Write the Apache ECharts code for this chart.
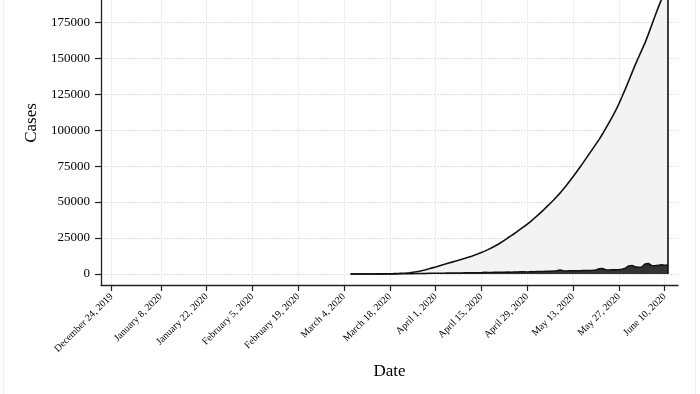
<!DOCTYPE html>
<html>
<head>
<meta charset="utf-8">
<script src="https://cdn.jsdelivr.net/npm/echarts@6/dist/echarts.min.js"></script>
<style>
html,body{margin:0;padding:0;background:#fff;}
#wrap{position:relative;width:700px;height:394px;}
#c{width:700px;height:394px;}
#frame{position:absolute;left:3px;top:0;width:691px;height:394px;border-left:1px solid #efefef;border-right:1px solid #efefef;pointer-events:none;}
</style>
</head>
<body>
<div id="wrap"><div id="c"></div><div id="frame"></div></div>
<script>
// ---- data ----
const seriesStart = [2020, 2, 6]; // March 6, 2020 (first day of both series)

// cumulative cases, one value per day from March 6 to June 11, 2020
const cumulativeCases = [
  0, 0, 0, 10, 10, 20, 30, 40, 60, 80, 110, 140,                 // Mar 6-17
  180, 250, 330, 430, 560, 720, 920, 1200, 1550, 1950, 2450, 3000, 3600, 4250, // Mar 18-31
  4900, 5600, 6300, 6950, 7600, 8250, 8900, 9550, 10200, 10900, 11650, 12400, 13200, 14050, 14950, // Apr 1-15
  15900, 16950, 18050, 19250, 20550, 21900, 23400, 25000, 26500, 28000, 29600, 31300, 33000, 34600, 36400, // Apr 16-30
  38400, 40400, 42500, 44600, 46800, 49000, 51300, 53700, 56200, 58900, 61700, 64600, 67600, 70700, 73900, // May 1-15
  77100, 80400, 83700, 87000, 90300, 93600, 97300, 101200, 105200, 109300, 113500, 118300, 123400, 128700, 134200, 139800, // May 16-31
  145400, 150500, 155600, 160700, 166600, 172800, 179000, 185000, 190700, 196500, 202000 // Jun 1-11
];

// daily new cases, one value per day from March 6 to June 11, 2020
const dailyCases = [
  0, 0, 0, 5, 0, 5, 10, 10, 15, 20, 25, 30,                       // Mar 6-17
  40, 60, 70, 90, 110, 140, 170, 220, 260, 300, 350, 400, 450, 500, // Mar 18-31
  500, 550, 600, 620, 650, 680, 700, 720, 750, 780, 800, 820, 850, 880, 900, // Apr 1-15
  1200, 1100, 1000, 1250, 1150, 1300, 1200, 1350, 1250, 1450, 1350, 1500, 1550, 1450, 1650, // Apr 16-30
  1600, 1750, 1650, 1800, 1900, 1850, 2000, 2300, 2800, 2200, 2150, 2250, 2300, 2250, 2200, // May 1-15
  2350, 2400, 2450, 2600, 2800, 3600, 3900, 3000, 2800, 2900, 3000, 3100, 3300, 4100, 5600, 6000, // May 16-31
  5000, 4700, 4900, 6900, 7300, 5900, 5700, 6000, 6500, 6100, 6300 // Jun 1-11
];

// x-axis tick dates and y-axis ticks
const xTickDates = [
  [2019, 11, 24], [2020, 0, 8], [2020, 0, 22], [2020, 1, 5], [2020, 1, 19], [2020, 2, 4],
  [2020, 2, 18], [2020, 3, 1], [2020, 3, 15], [2020, 3, 29], [2020, 4, 13], [2020, 4, 27], [2020, 5, 10]
];
const yTicks = [0, 25000, 50000, 75000, 100000, 125000, 150000, 175000];
const monthNames = ['January','February','March','April','May','June','July','August','September','October','November','December'];

// ---- build ----
const DAY = 86400000;
const ts = a => Date.UTC(a[0], a[1], a[2]);
const dayTs = i => Date.UTC(seriesStart[0], seriesStart[1], seriesStart[2] + i);
const cumData = cumulativeCases.map((v, i) => [dayTs(i), v]);
const dailyData = dailyCases.map((v, i) => [dayTs(i), v]);
const xTicks = xTickDates.map(ts);

const xMin = xTicks[0] - 3.27 * DAY;
const xMax = xMin + 176.35 * DAY;
const yMin = -7650, yMax = 190490;

const lastIdx = cumData.length - 1;
const lastTs = cumData[lastIdx][0];

const fontFam = '"Liberation Serif", "DejaVu Serif", serif';
const chart = echarts.init(document.getElementById('c'));
chart.setOption({
  animation: false,
  backgroundColor: '#ffffff',
  grid: { left: 101, right: 22, top: 0, bottom: 109 },
  xAxis: {
    type: 'value',
    min: xMin, max: xMax,
    name: 'Date', nameLocation: 'middle', nameGap: 78,
    nameTextStyle: { fontFamily: fontFam, fontSize: 17, color: '#000' },
    axisLine: { show: true, onZero: false, lineStyle: { color: '#222', width: 1.3 } },
    axisTick: { show: true, length: 6, customValues: xTicks, lineStyle: { color: '#222', width: 1.2 } },
    axisLabel: {
      customValues: xTicks, rotate: 45, margin: 10,
      fontFamily: fontFam, fontSize: 10, color: '#000',
      formatter: v => { const d = new Date(v); return monthNames[d.getUTCMonth()] + ' ' + d.getUTCDate() + ', ' + d.getUTCFullYear(); }
    },
    splitLine: { show: true, lineStyle: { color: '#efefef', width: 1 } }
  },
  yAxis: {
    type: 'value',
    min: yMin, max: yMax,
    name: 'Cases', nameLocation: 'middle', nameGap: 55, nameRotate: 90,
    nameTextStyle: { fontFamily: fontFam, fontSize: 17, color: '#000', padding: [0, 0, 0, 39] },
    axisLine: { show: true, onZero: false, lineStyle: { color: '#222', width: 1.3 } },
    axisTick: { show: true, length: 6, customValues: yTicks, lineStyle: { color: '#222', width: 1.2 } },
    axisLabel: { customValues: yTicks, margin: 11, fontFamily: fontFam, fontSize: 13, color: '#000', formatter: v => String(v) },
    splitLine: { show: true, lineStyle: { color: '#d4d4d4', width: 1, type: [1.5, 1.5] } }
  },
  series: [
    {
      type: 'line', data: cumData, showSymbol: false, symbol: 'none', clip: true, z: 2,
      lineStyle: { color: '#111', width: 1.6 },
      areaStyle: { color: '#f3f3f3', opacity: 1 },
      markLine: {
        silent: true, symbol: 'none', label: { show: false },
        lineStyle: { color: '#111', width: 1.6, type: 'solid' },
        data: [[ { coord: [lastTs, 0] }, { coord: [lastTs, Math.min(cumData[lastIdx][1], yMax)] } ]]
      }
    },
    {
      type: 'line', data: dailyData, showSymbol: false, symbol: 'none', clip: true, z: 3,
      lineStyle: { color: '#111', width: 1.5 },
      areaStyle: { color: '#333333', opacity: 1 }
    }
  ]
});
</script>
</body>
</html>
